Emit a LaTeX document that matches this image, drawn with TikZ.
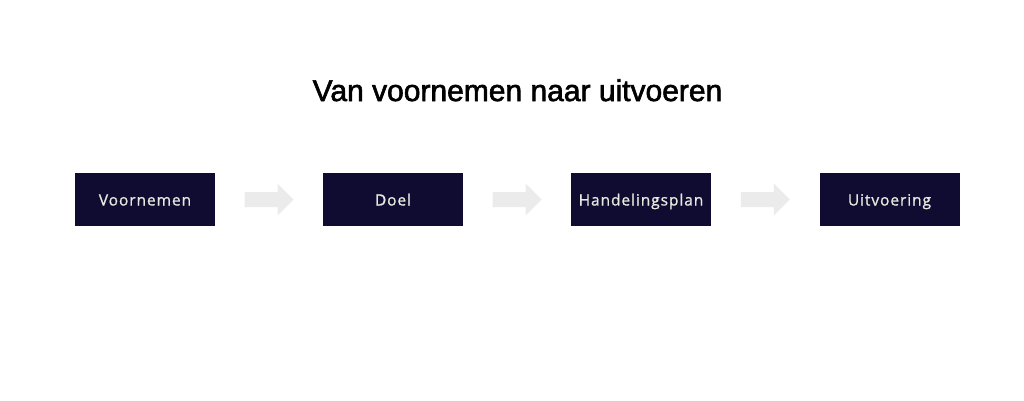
\documentclass[tikz,border=0pt]{standalone}
\usepackage{fontspec}
\usetikzlibrary{calc}
\setmainfont{Liberation Sans}
\newfontfamily\titlefont[FakeBold=2]{Liberation Sans}
\newfontfamily\boxfont[LetterSpace=6,FakeBold=1]{Open Sans}
\definecolor{boxblue}{HTML}{100B30}
\definecolor{boxtext}{HTML}{E8E8E0}
\definecolor{arrowgray}{HTML}{EBEBEB}
\tikzset{
  stepbox/.style={fill=boxblue, draw=none, minimum width=140pt, minimum height=53pt, inner sep=0pt,
    text height=12pt, text depth=0pt,
    text=boxtext, font=\boxfont\fontsize{15.5}{17}\selectfont},
  blockarrow/.style={fill=arrowgray, draw=none}
}
\begin{document}
\begin{tikzpicture}[x=1pt,y=-1pt]
\useasboundingbox (0,0) rectangle (1024,400);
\node[font=\titlefont\fontsize{30}{35}\selectfont, anchor=base] (title) at (517.5,101) {Van voornemen naar uitvoeren};
\node[stepbox] (b1) at (145,199.5) {Voornemen};
\node[stepbox] (b2) at (393,199.5) {Doel};
\node[stepbox] (b3) at (641,199.5) {Handelingsplan};
\node[stepbox] (b4) at (889.5,199.5) {Uitvoering};
\foreach \a/\b in {b1/b2,b2/b3,b3/b4}{
  \path ($(\a.east)!0.5!(\b.west)$) coordinate (m);
  \fill[blockarrow] ([shift={(-24.5,-7.5)}]m) -- ([shift={(8.5,-7.5)}]m) -- ([shift={(8.5,-16)}]m)
    -- ([shift={(24.5,0)}]m) -- ([shift={(8.5,16)}]m) -- ([shift={(8.5,7.5)}]m) -- ([shift={(-24.5,7.5)}]m) -- cycle;
}
\end{tikzpicture}
\end{document}
